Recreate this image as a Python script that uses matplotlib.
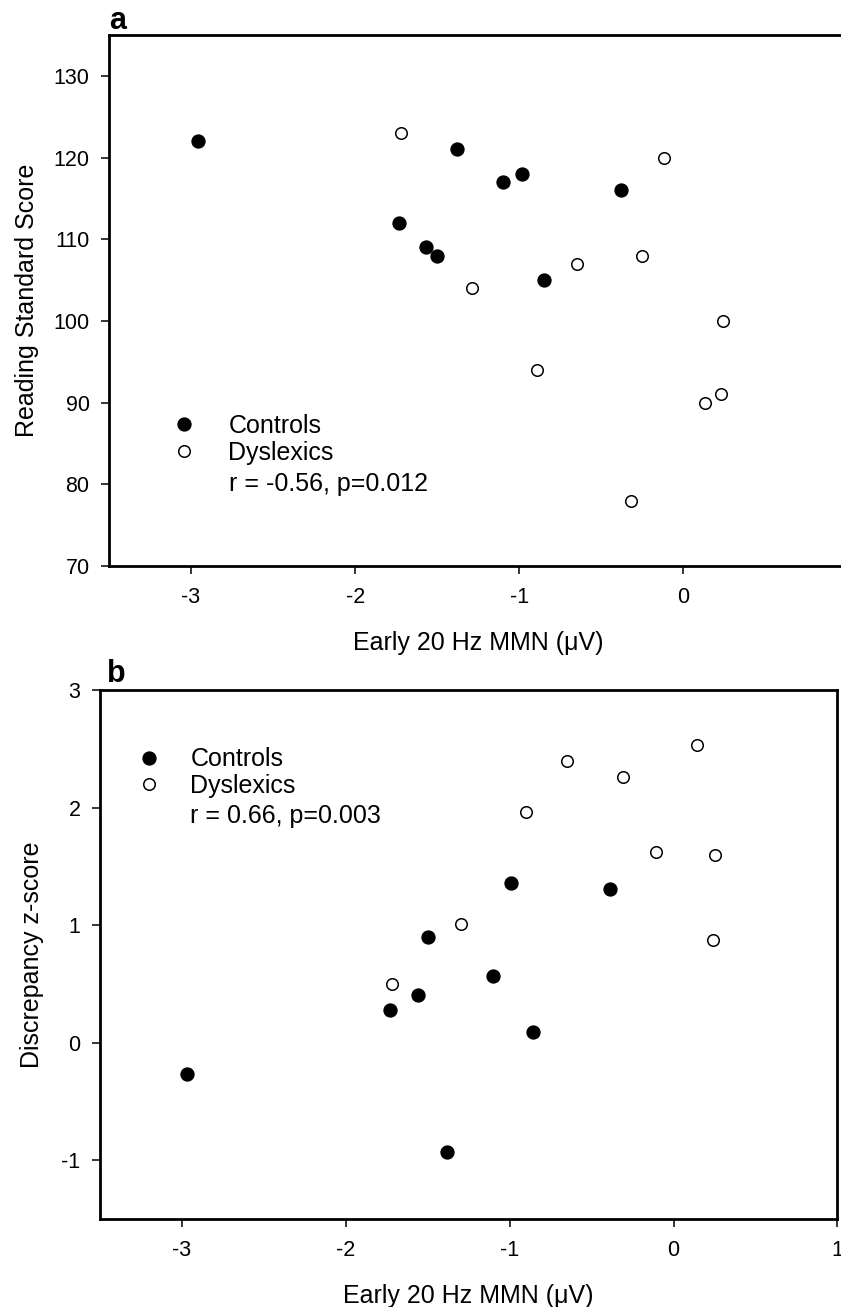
import matplotlib
matplotlib.use("Agg")
import matplotlib.pyplot as plt

plt.rcParams['font.family'] = ['Liberation Sans', 'DejaVu Sans']
plt.rcParams['axes.unicode_minus'] = False

# panel a: reading standard score vs early 20 Hz MMN
a_ctrl_x = [-2.96, -1.38, -1.10, -0.98, -0.38, -1.73, -1.57, -1.50, -0.85]
a_ctrl_y = [122, 121, 117, 118, 116, 112, 109, 108, 105]
a_dys_x = [-1.72, -0.12, -0.25, -0.65, -1.29, 0.24, -0.89, 0.13, 0.23, -0.32]
a_dys_y = [123, 120, 108, 107, 104, 100, 94, 90, 91, 78]

# panel b: discrepancy z-score vs early 20 Hz MMN
b_ctrl_x = [-2.97, -1.38, -1.73, -1.56, -1.50, -1.10, -0.86, -0.99, -0.39]
b_ctrl_y = [-0.27, -0.93, 0.28, 0.41, 0.90, 0.57, 0.09, 1.36, 1.31]
b_dys_x = [-1.72, -1.30, -0.90, -0.65, -0.31, 0.14, -0.11, 0.25, 0.24]
b_dys_y = [0.50, 1.01, 1.96, 2.40, 2.26, 2.53, 1.62, 1.60, 0.87]

x_ticks = [-3, -2, -1, 0, 1]
a_yticks = [70, 80, 90, 100, 110, 120, 130]
b_yticks = [-1, 0, 1, 2, 3]

xlabel = "Early 20 Hz MMN (\u03bcV)"
FS_LABEL = 18
FS_TICK = 15.5


def style_axes(ax):
    for side in ['top', 'right', 'bottom', 'left']:
        ax.spines[side].set_linewidth(2.0)
    ax.tick_params(direction='out', length=6, width=1.1, labelsize=FS_TICK,
                   top=False, right=False)
    ax.tick_params(axis='x', pad=9)
    ax.tick_params(axis='y', pad=8)


def draw_points(ax, cx, cy, dx, dy):
    ax.plot(cx, cy, 'o', color='black', ms=9.3, ls='none', label='Controls')
    ax.plot(dx, dy, 'o', mfc='white', mec='black', mew=1.1, ms=8.3, ls='none',
            label='Dyslexics')


fig = plt.figure(figsize=(8.41, 13.07), dpi=100)

# ---- panel a ----
ax1 = fig.add_axes([0.1296, 0.5670, 0.878, 0.4062])
draw_points(ax1, a_ctrl_x, a_ctrl_y, a_dys_x, a_dys_y)
ax1.set_xlim(-3.5, 1)
ax1.set_ylim(70, 135)
ax1.set_xticks(x_ticks)
ax1.set_yticks(a_yticks)
style_axes(ax1)
ax1.set_xlabel(xlabel, fontsize=FS_LABEL, va='center')
ax1.xaxis.set_label_coords(0.5, -0.145)
ax1.set_ylabel("Reading Standard Score", fontsize=FS_LABEL, va='center')
ax1.yaxis.set_label_coords(-0.111, 0.5)
ax1.legend(loc='center left', bbox_to_anchor=(0.085, 0.2385), frameon=False,
           fontsize=FS_LABEL, handlelength=1, handletextpad=1.26,
           labelspacing=0.1, borderpad=0, borderaxespad=0)
ax1.text(-2.77, 80.0, "r = -0.56, p=0.012", fontsize=FS_LABEL, va='center', ha='left')

# ---- panel b ----
ax2 = fig.add_axes([0.1189, 0.0673, 0.8769, 0.4047])
draw_points(ax2, b_ctrl_x, b_ctrl_y, b_dys_x, b_dys_y)
ax2.set_xlim(-3.5, 1)
ax2.set_ylim(-1.5, 3)
ax2.set_xticks(x_ticks)
ax2.set_yticks(b_yticks)
style_axes(ax2)
ax2.set_xlabel(xlabel, fontsize=FS_LABEL, va='center')
ax2.xaxis.set_label_coords(0.5, -0.146)
ax2.set_ylabel("Discrepancy z-score", fontsize=FS_LABEL, va='center')
ax2.yaxis.set_label_coords(-0.092, 0.5)
ax2.legend(loc='center left', bbox_to_anchor=(0.0498, 0.844), frameon=False,
           fontsize=FS_LABEL, handlelength=1, handletextpad=1.15,
           labelspacing=0.1, borderpad=0, borderaxespad=0)
ax2.text(-2.95, 1.93, "r = 0.66, p=0.003", fontsize=FS_LABEL, va='center', ha='left')

# panel letters
fig.text(0.1296, 0.9840, "a", fontsize=22, fontweight='bold', va='center', ha='left')
fig.text(0.127, 0.4843, "b", fontsize=22, fontweight='bold', va='center', ha='left')

fig.savefig("out.png", dpi=100)
